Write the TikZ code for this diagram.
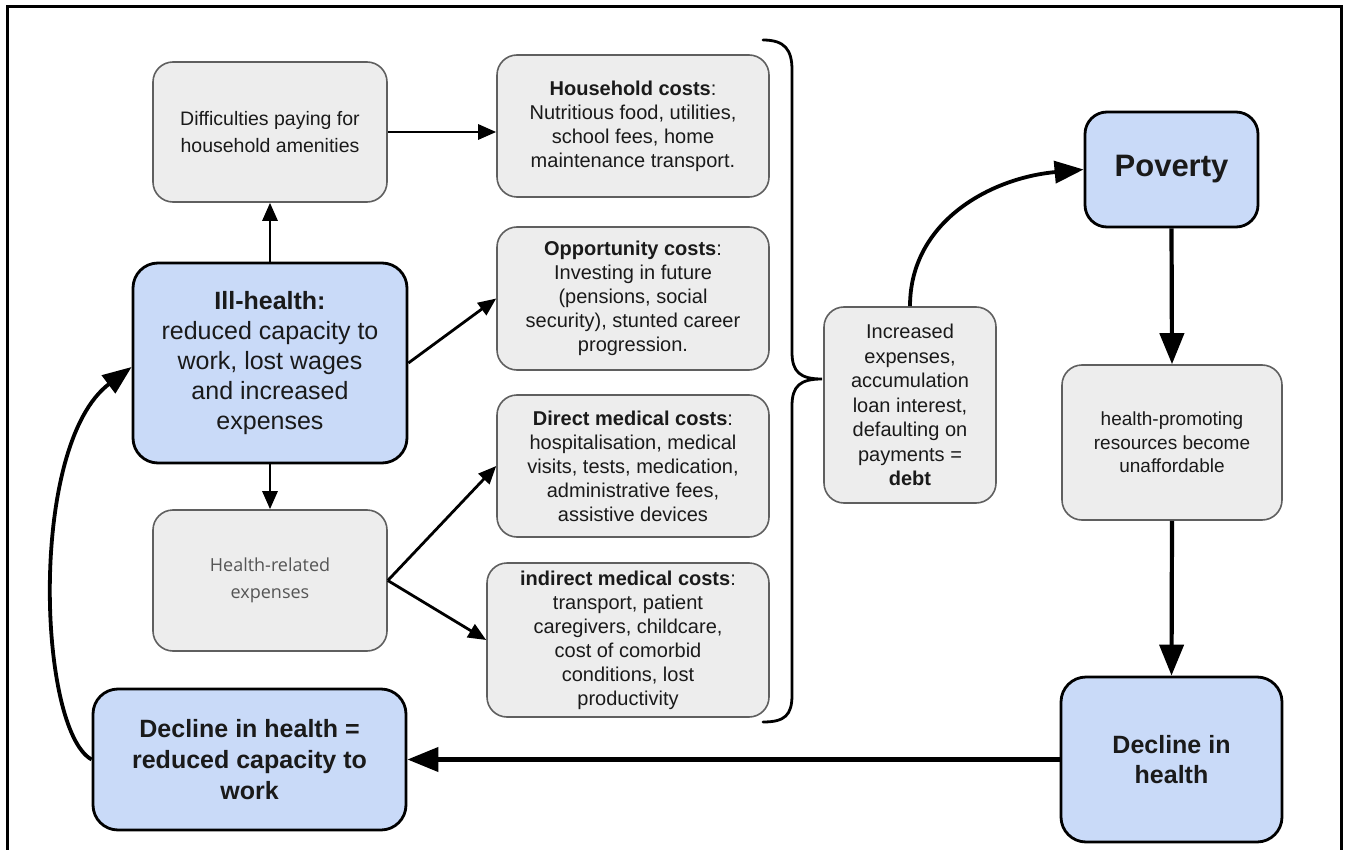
\documentclass[tikz,border=0pt]{standalone}
\usepackage{fontspec}
\setmainfont{Liberation Sans}
\newfontfamily\osans{Open Sans}
\usetikzlibrary{arrows.meta}
\definecolor{gfill}{HTML}{EDEDED}
\definecolor{gline}{HTML}{5F5F5F}
\definecolor{bfill}{HTML}{C9DAF8}
\definecolor{txt}{HTML}{1A1A1A}
\definecolor{htxt}{HTML}{555555}
\begin{document}
\begin{tikzpicture}[x=1pt,y=-1pt,
 gbox/.style={draw=gline, fill=gfill, line width=1.6pt, rounded corners=20pt, align=center, inner sep=0pt, text=txt, font=\fontsize{20}{24}\selectfont},
 bbox/.style={draw=black, fill=bfill, line width=2.8pt, rounded corners=25pt, align=center, inner sep=0pt, text=txt},
 thinarr/.style={line width=2.8pt, -{Triangle[length=18pt,width=15pt]}},
 thickarr/.style={line width=4.2pt, -{Triangle[length=31pt,width=24pt]}},
 curvyarr/.style={line width=3.8pt, -{Triangle[length=29pt,width=22pt]}},
 bracestyle/.style={line width=2.8pt, line cap=round}
]
\useasboundingbox (0,0) rectangle (1346,850);
% outer frame
\draw[line width=3pt] (7,850) -- (7,7) -- (1341,7) -- (1341,850);

% left column
\node[gbox, minimum width=234pt, minimum height=140pt, font=\fontsize{19.5}{26.5}\selectfont] (diff) at (270,132) {Difficulties paying for\\household amenities};
\node[bbox, minimum width=274pt, minimum height=200pt, font=\fontsize{25}{30}\selectfont] (ill) at (270,363) {\textbf{Ill-health:}\\reduced capacity to\\work, lost wages\\and increased\\expenses};
\node[gbox, minimum width=234pt, minimum height=141pt, font=\osans\fontsize{18}{26.5}\selectfont, text=htxt] (hre) at (270,580.5) {Health-related\\expenses};
\node[bbox, minimum width=313pt, minimum height=141pt, font=\bfseries\fontsize{25}{31}\selectfont] (dec2) at (249.5,759.5) {Decline in health =\\reduced capacity to\\work};

% middle column
\node[gbox, minimum width=272pt, minimum height=142pt] (hh) at (633,126) {\textbf{Household costs}:\\Nutritious food, utilities,\\school fees, home\\maintenance transport.};
\node[gbox, minimum width=272pt, minimum height=143pt] (opp) at (633,298.5) {\textbf{Opportunity costs}:\\Investing in future\\(pensions, social\\security), stunted career\\progression.};
\node[gbox, minimum width=272pt, minimum height=142pt] (dir) at (633,466) {\textbf{Direct medical costs}:\\hospitalisation, medical\\visits, tests, medication,\\administrative fees,\\assistive devices};
\node[gbox, minimum width=282pt, minimum height=154pt] (ind) at (628,640) {\textbf{indirect medical costs}:\\transport, patient\\caregivers, childcare,\\cost of comorbid\\conditions, lost\\productivity};

% debt box
\node[gbox, minimum width=172pt, minimum height=196pt, font=\fontsize{20}{24.5}\selectfont] (inc) at (910,405) {Increased\\expenses,\\accumulation\\loan interest,\\defaulting on\\payments =\\\textbf{debt}};

% right column
\node[bbox, minimum width=173pt, minimum height=115pt, rounded corners=22pt, font=\bfseries\fontsize{31}{36}\selectfont] (pov) at (1171.5,169.5) {Poverty};
\node[gbox, minimum width=220pt, minimum height=155pt, font=\fontsize{19}{23.5}\selectfont] (hp) at (1172,442.5) {health-promoting\\resources become\\unaffordable};
\node[bbox, minimum width=221pt, minimum height=165pt, font=\bfseries\fontsize{25}{30}\selectfont] (dec1) at (1171.5,759.5) {Decline in\\health};

% brace
\coordinate (brtop) at (763,40);
\coordinate (brtip) at (822,379);
\coordinate (brbot) at (763,722);
\draw[bracestyle] (brtop) .. controls (785,40) and (792,50) .. (792,70) -- (792,352)
  .. controls (792,372) and (800,379) .. (brtip)
  .. controls (800,379) and (792,386) .. (792,406) -- (792,695)
  .. controls (792,715) and (785,722) .. (brbot);

% arrows
\draw[thinarr] (diff.east) -- (diff.east -| hh.west);
\draw[thinarr] (ill.north) -- (diff.south);
\draw[thinarr] (ill.east) -- (opp.west);
\draw[thinarr] (ill.south) -- (hre.north);
\draw[thinarr] (hre.east) -- (dir.west);
\draw[thinarr] (hre.east) -- (ind.west);
\draw[curvyarr] (inc.north) .. controls (910,222) and (990,178) .. (pov.west);
\draw[thickarr] (pov.south) -- (hp.north);
\draw[thickarr] (hp.south) -- (dec1.north);
\draw[thickarr] (dec1.west) -- (dec2.east);
\draw[curvyarr] (dec2.west) .. controls (38,730) and (28,445) .. ([yshift=-4pt]ill.west);
\end{tikzpicture}
\end{document}
